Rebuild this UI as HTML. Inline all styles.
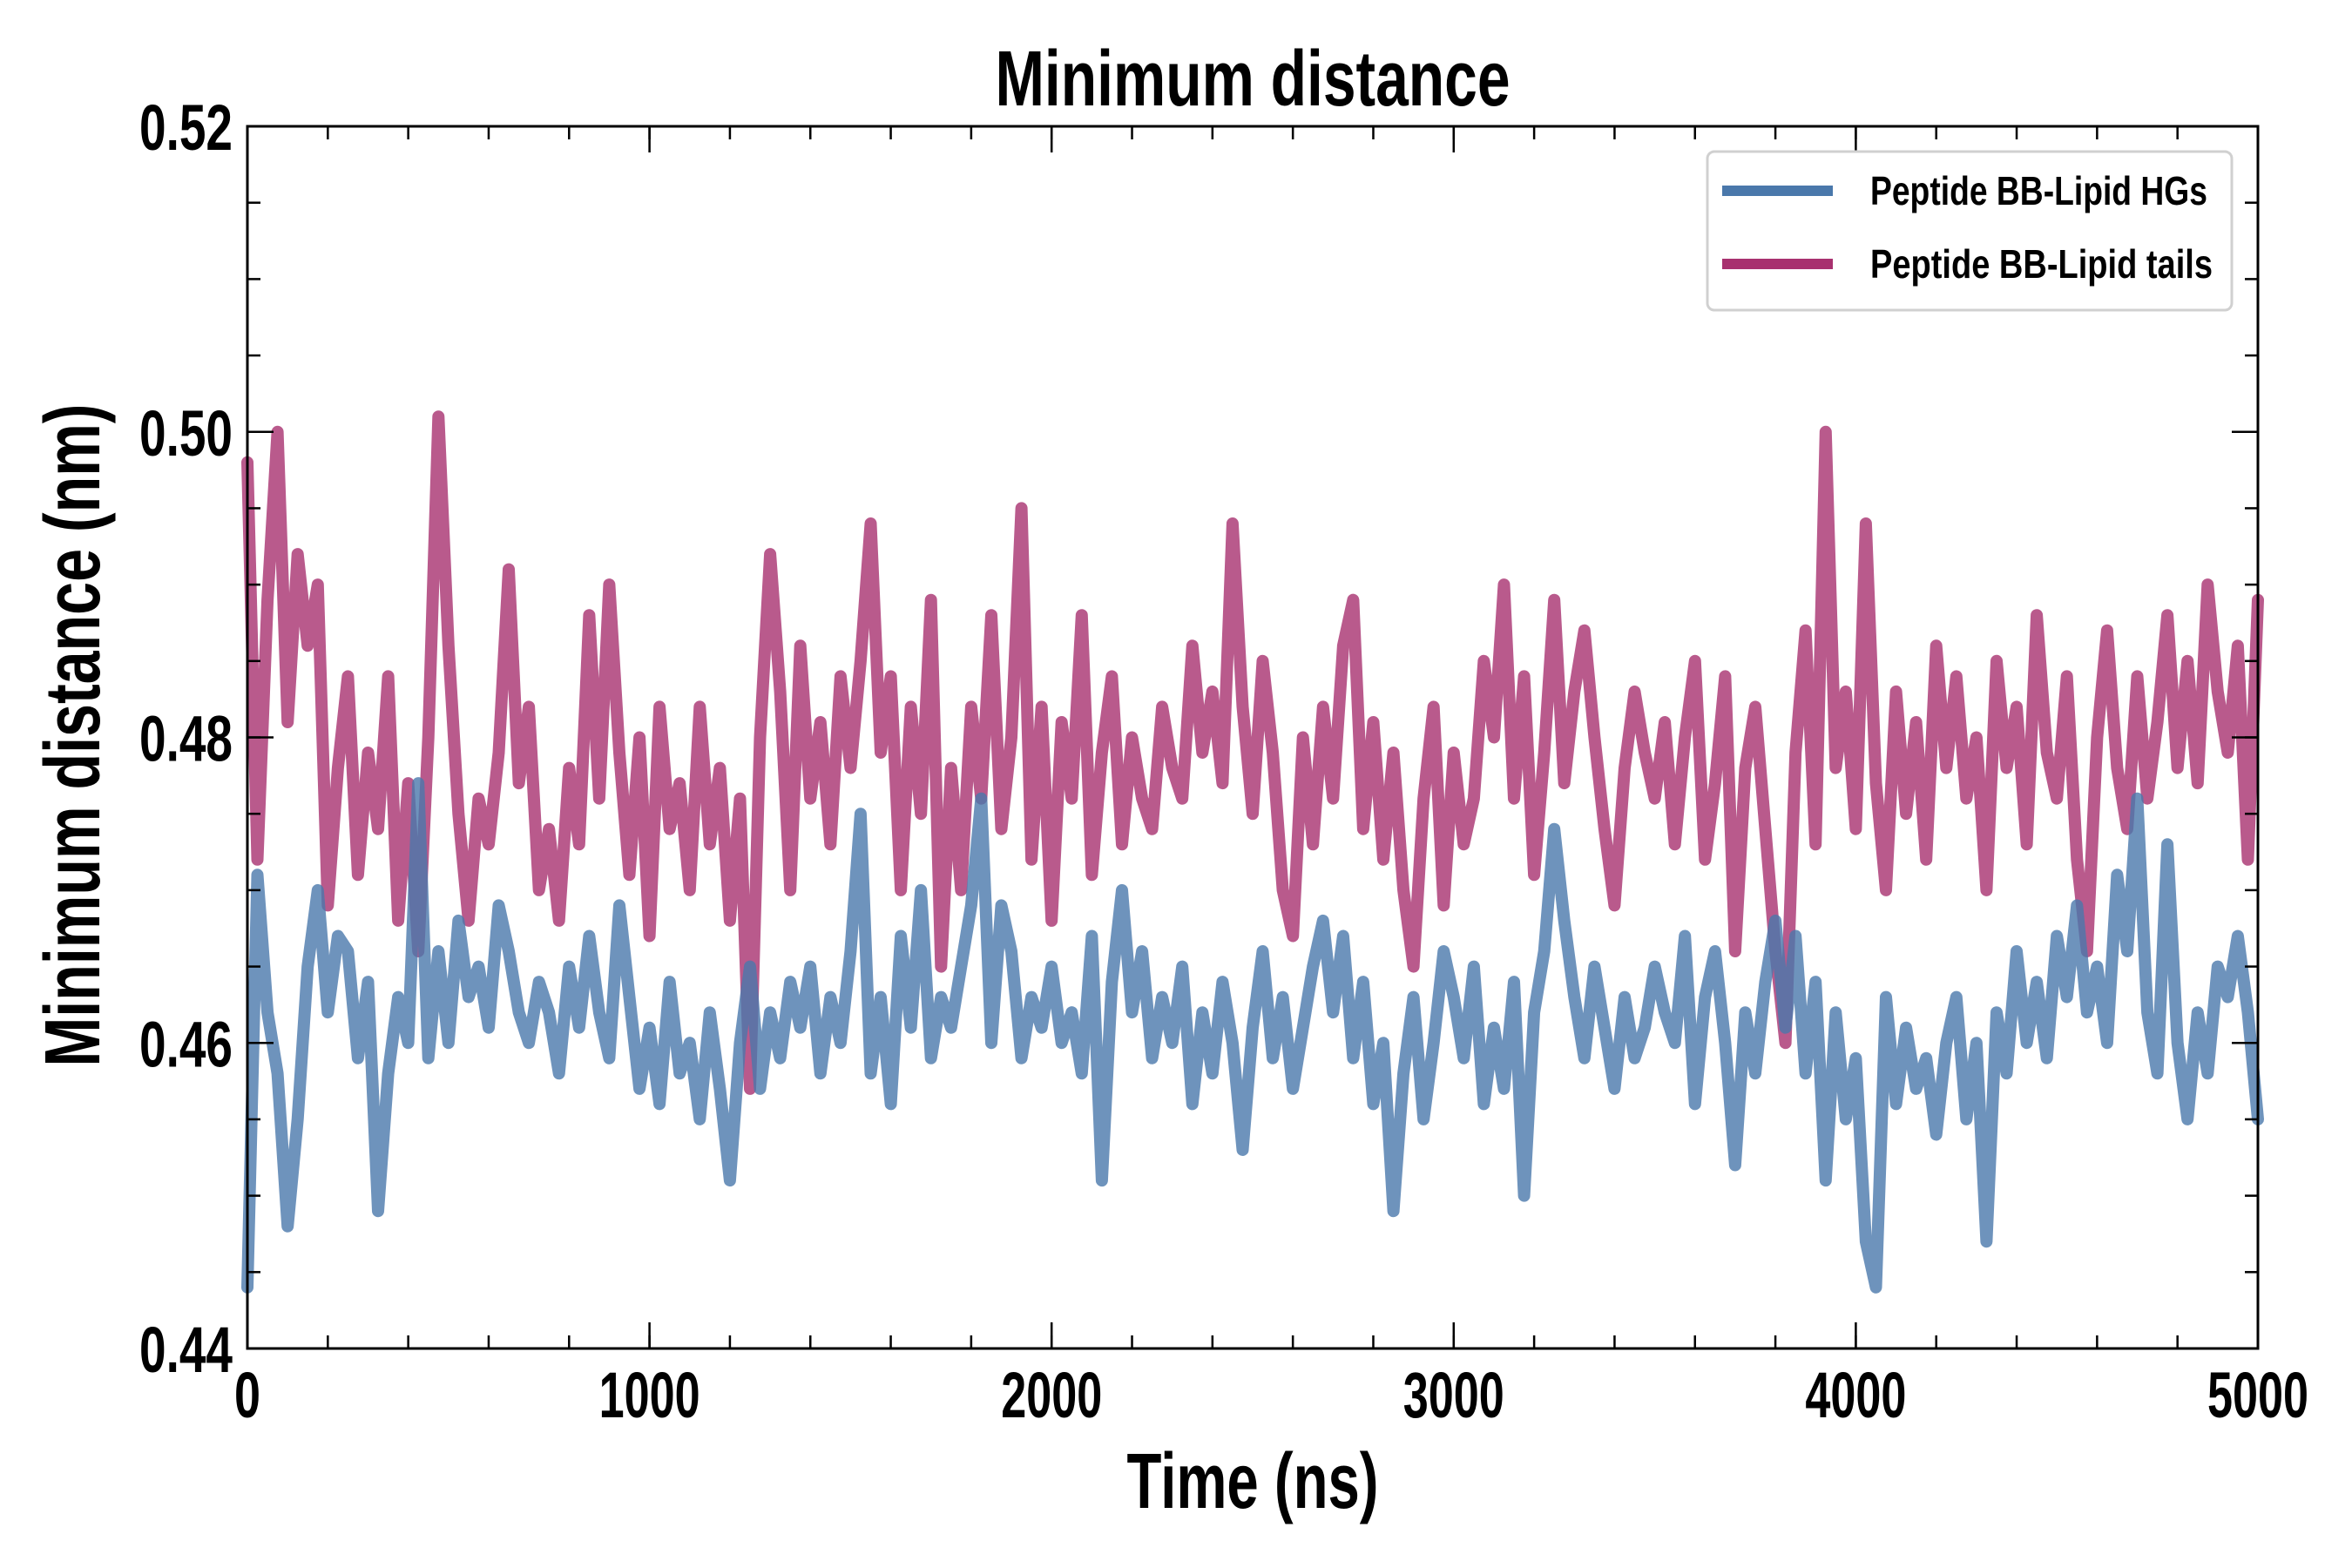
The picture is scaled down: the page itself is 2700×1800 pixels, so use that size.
<!DOCTYPE html>
<html><head><meta charset="utf-8"><style>
html,body{margin:0;padding:0;background:#fff;}
svg{display:block;font-family:"Liberation Sans Narrow","Liberation Sans",sans-serif;font-weight:bold;}
</style></head><body>
<svg id="chart" width="2700" height="1800" viewBox="0 0 2700 1800" xmlns="http://www.w3.org/2000/svg">
<rect width="2700" height="1800" fill="#fff"/>
<text x="1438" y="121" text-anchor="middle" font-size="90" textLength="591" lengthAdjust="spacingAndGlyphs" fill="#000">Minimum distance</text>
<text x="1438" y="1731" text-anchor="middle" font-size="90" textLength="289" lengthAdjust="spacingAndGlyphs" fill="#000">Time (ns)</text>
<text transform="translate(114,844) rotate(-90)" text-anchor="middle" font-size="90" textLength="761" lengthAdjust="spacingAndGlyphs" fill="#000">Minimum distance (nm)</text>
<g id="series"></g>
<g id="axes"></g>
<g id="legend">
  <rect x="1960" y="174" width="602" height="182" rx="8" fill="#fff" fill-opacity="0.85" stroke="#d0d0d0" stroke-width="3"/>
  <line x1="1977" y1="219" x2="2104" y2="219" stroke="#4a78ab" stroke-width="12"/>
  <text x="2147" y="235" font-size="46" textLength="387" lengthAdjust="spacingAndGlyphs" fill="#000">Peptide BB-Lipid HGs</text>
  <line x1="1977" y1="303" x2="2104" y2="303" stroke="#a8316f" stroke-width="12"/>
  <text x="2147" y="319" font-size="46" textLength="393" lengthAdjust="spacingAndGlyphs" fill="#000">Peptide BB-Lipid tails</text>
</g>
</svg>
<script>
const xTicks = [0, 1000, 2000, 3000, 4000, 5000];
const yTicks = [0.44, 0.46, 0.48, 0.50, 0.52];
const yTickLabels = ["0.44", "0.46", "0.48", "0.50", "0.52"];
const timeStep = 25;
const tailsValues = [
0.498,0.472,0.489,0.500,0.481,0.492,0.486,0.490,0.469,0.478,
0.484,0.471,0.479,0.474,0.484,0.468,0.477,0.466,0.480,0.501,
0.486,0.475,0.468,0.476,0.473,0.479,0.491,0.477,0.482,0.470,
0.474,0.468,0.478,0.473,0.488,0.476,0.490,0.479,0.471,0.480,
0.467,0.482,0.474,0.477,0.470,0.482,0.473,0.478,0.468,0.476,
0.457,0.480,0.492,0.483,0.470,0.486,0.476,0.481,0.473,0.484,
0.478,0.485,0.494,0.479,0.484,0.470,0.482,0.475,0.489,0.465,
0.478,0.470,0.482,0.476,0.488,0.474,0.480,0.495,0.472,0.482,
0.468,0.481,0.476,0.488,0.471,0.479,0.484,0.473,0.480,0.476,
0.474,0.482,0.478,0.476,0.486,0.479,0.483,0.477,0.494,0.482,
0.475,0.485,0.479,0.470,0.467,0.480,0.473,0.482,0.476,0.486,
0.489,0.474,0.481,0.472,0.479,0.470,0.465,0.476,0.482,0.469,
0.479,0.473,0.476,0.485,0.480,0.490,0.476,0.484,0.471,0.479,
0.489,0.477,0.483,0.487,0.480,0.474,0.469,0.478,0.483,0.479,
0.476,0.481,0.473,0.480,0.485,0.472,0.477,0.484,0.466,0.478,
0.482,0.474,0.466,0.460,0.479,0.487,0.473,0.500,0.478,0.483,
0.474,0.494,0.477,0.470,0.483,0.475,0.481,0.472,0.486,0.478,
0.484,0.476,0.480,0.470,0.485,0.478,0.482,0.473,0.488,0.479,
0.476,0.484,0.472,0.466,0.480,0.487,0.478,0.474,0.484,0.476,
0.481,0.488,0.478,0.485,0.477,0.490,0.483,0.479,0.486,0.472,
0.489];
const hgsValues = [
0.444,0.471,0.462,0.458,0.448,0.455,0.465,0.470,0.462,0.467,
0.466,0.459,0.464,0.449,0.458,0.463,0.460,0.477,0.459,0.466,
0.460,0.468,0.463,0.465,0.461,0.469,0.466,0.462,0.460,0.464,
0.462,0.458,0.465,0.461,0.467,0.462,0.459,0.469,0.463,0.457,
0.461,0.456,0.464,0.458,0.460,0.455,0.462,0.457,0.451,0.460,
0.465,0.457,0.462,0.459,0.464,0.461,0.465,0.458,0.463,0.460,
0.466,0.475,0.458,0.463,0.456,0.467,0.461,0.470,0.459,0.463,
0.461,0.465,0.469,0.476,0.460,0.469,0.466,0.459,0.463,0.461,
0.465,0.460,0.462,0.458,0.467,0.451,0.464,0.470,0.462,0.466,
0.459,0.463,0.460,0.465,0.456,0.462,0.458,0.464,0.460,0.453,
0.461,0.466,0.459,0.463,0.457,0.461,0.465,0.468,0.462,0.467,
0.459,0.464,0.456,0.460,0.449,0.458,0.463,0.455,0.460,0.466,
0.463,0.459,0.465,0.456,0.461,0.457,0.464,0.450,0.462,0.466,
0.474,0.468,0.463,0.459,0.465,0.461,0.457,0.463,0.459,0.461,
0.465,0.462,0.460,0.467,0.456,0.463,0.466,0.460,0.452,0.462,
0.458,0.464,0.468,0.461,0.467,0.458,0.464,0.451,0.462,0.455,
0.459,0.447,0.444,0.463,0.456,0.461,0.457,0.459,0.454,0.460,
0.463,0.455,0.460,0.447,0.462,0.458,0.466,0.460,0.464,0.459,
0.467,0.463,0.469,0.462,0.465,0.460,0.471,0.466,0.476,0.462,
0.458,0.473,0.460,0.455,0.462,0.458,0.465,0.463,0.467,0.462,
0.455];

const NS = "http://www.w3.org/2000/svg";
const L = 284, R = 2592, T = 145, B = 1548;
const xMin = 0, xMax = 5000, yMin = 0.44, yMax = 0.52;
function xs(v){ return L + (v - xMin) / (xMax - xMin) * (R - L); }
function ys(v){ return B - (v - yMin) / (yMax - yMin) * (B - T); }

const seriesG = document.getElementById('series');
function drawSeries(vals, color, name){
  let d = '';
  vals.forEach((v, i) => { d += (i ? 'L' : 'M') + xs(i * timeStep).toFixed(1) + ' ' + ys(v).toFixed(1) + ' '; });
  const p = document.createElementNS(NS, 'path');
  p.setAttribute('d', d);
  p.setAttribute('fill', 'none');
  p.setAttribute('stroke', color);
  p.setAttribute('stroke-opacity', '0.8');
  p.setAttribute('stroke-width', '14');
  p.setAttribute('stroke-linejoin', 'round');
  p.setAttribute('stroke-linecap', 'round');
  
  
  seriesG.appendChild(p);
}
drawSeries(tailsValues, '#a8316f', 'line-lipid-tails');
drawSeries(hgsValues, '#4a78ab', 'line-lipid-hgs');

const axesG = document.getElementById('axes');
function line(x1,y1,x2,y2,w,name){
  const l = document.createElementNS(NS, 'line');
  l.setAttribute('x1', x1); l.setAttribute('y1', y1);
  l.setAttribute('x2', x2); l.setAttribute('y2', y2);
  l.setAttribute('stroke', '#000'); l.setAttribute('stroke-width', w);
  
  
  axesG.appendChild(l);
}
function label(x,y,txt,anchor,len,name){
  const t = document.createElementNS(NS, 'text');
  t.setAttribute('x', x); t.setAttribute('y', y);
  t.setAttribute('text-anchor', anchor);
  t.setAttribute('font-size', '74');
  t.setAttribute('textLength', len);
  t.setAttribute('lengthAdjust', 'spacingAndGlyphs');
  t.textContent = txt;
  
  
  axesG.appendChild(t);
}
for (let v = 0; v <= 5000; v += 200) {
  const x = xs(v);
  line(x, B, x, B - 15, 2.5, 'x-minor-tick');
  line(x, T, x, T + 15, 2.5, 'x-minor-tick-top');
}
xTicks.forEach(v => {
  const x = xs(v);
  line(x, B, x, B - 30, 2.5, 'x-major-tick');
  line(x, T, x, T + 30, 2.5, 'x-major-tick-top');
  const s = String(v);
  label(x, 1627, s, 'middle', s.length === 1 ? 30 : 116, 'x-tick-label');
});
for (let k = 0; k <= 16; k++) {
  const y = ys(yMin + k * 0.005);
  line(L, y, L + 15, y, 2.5, 'y-minor-tick');
  line(R, y, R - 15, y, 2.5, 'y-minor-tick-right');
}
yTicks.forEach((v, i) => {
  const y = ys(v);
  line(L, y, L + 30, y, 2.5, 'y-major-tick');
  line(R, y, R - 30, y, 2.5, 'y-major-tick-right');
  label(267, y + 27, yTickLabels[i], 'end', 107, 'y-tick-label');
});
const frame = document.createElementNS(NS, 'rect');
frame.setAttribute('x', L); frame.setAttribute('y', T);
frame.setAttribute('width', R - L); frame.setAttribute('height', B - T);
frame.setAttribute('fill', 'none'); frame.setAttribute('stroke', '#000'); frame.setAttribute('stroke-width', '3');


axesG.appendChild(frame);
</script>
</body></html>
